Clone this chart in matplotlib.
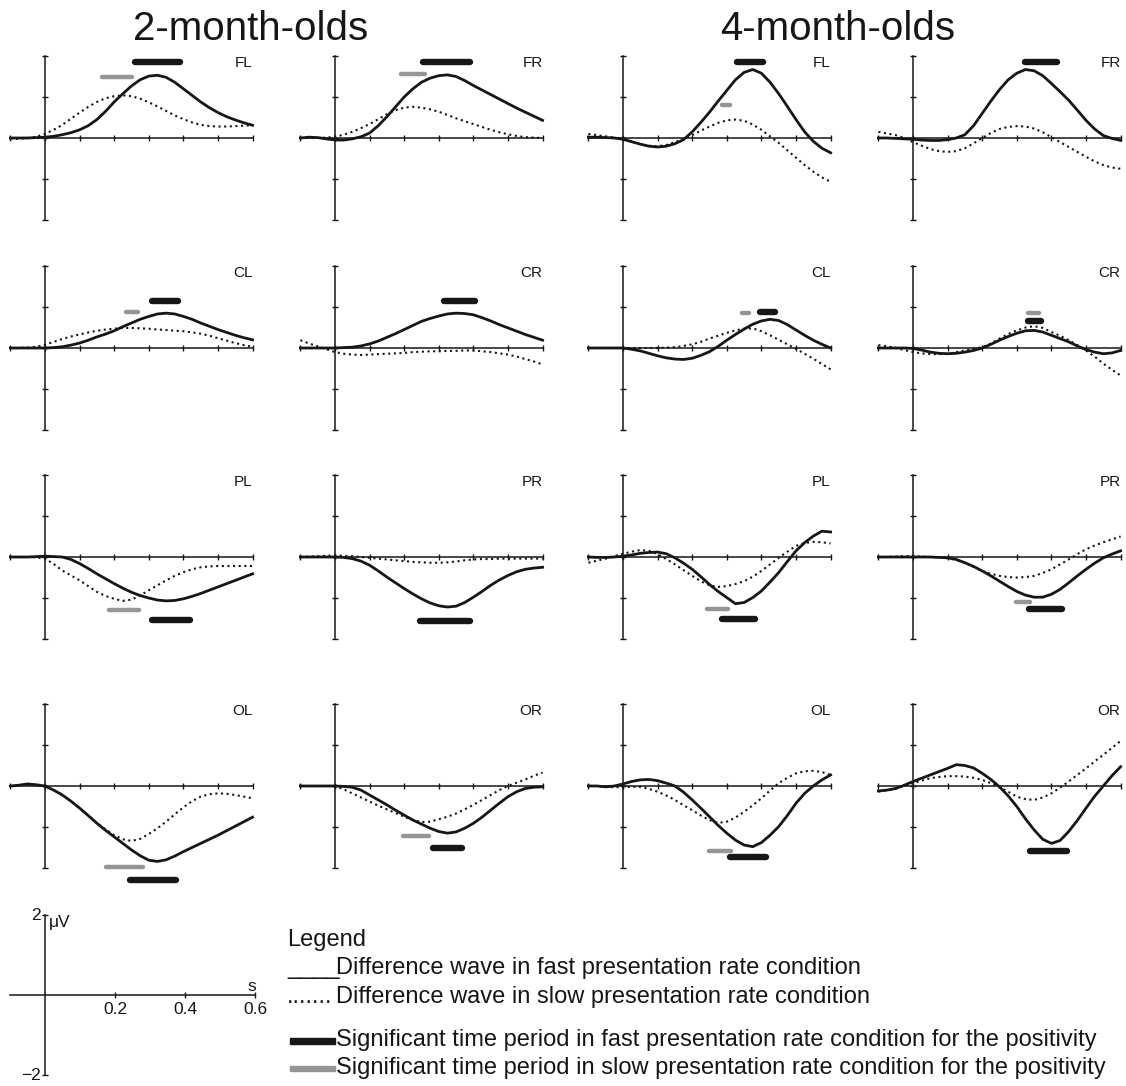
import matplotlib
matplotlib.use("Agg")
import matplotlib.pyplot as plt

plt.rcParams['font.family'] = ['Liberation Sans', 'DejaVu Sans']

# ---------------- data ----------------
time_s = [-0.1, -0.075, -0.05, -0.025, 0.0, 0.025, 0.05, 0.075, 0.1, 0.125,
          0.15, 0.175, 0.2, 0.225, 0.25, 0.275, 0.3, 0.325, 0.35, 0.375,
          0.4, 0.425, 0.45, 0.475, 0.5, 0.525, 0.55, 0.575, 0.6]

age_titles = ['2-month-olds', '4-month-olds']

# 2-month-olds (fast = solid, slow = dotted), microvolts
fast_2m_FL = [0, 0, 0, 0.01, 0.02, 0.04, 0.08, 0.13, 0.2, 0.3, 0.45, 0.65, 0.88, 1.08, 1.27, 1.42, 1.51, 1.53, 1.48, 1.36, 1.2, 1.04, 0.88, 0.74, 0.62, 0.52, 0.44, 0.37, 0.31]
slow_2m_FL = [-0.02, -0.02, 0, 0.03, 0.1, 0.2, 0.32, 0.47, 0.62, 0.76, 0.88, 0.97, 1.02, 1.04, 1.02, 0.96, 0.87, 0.77, 0.66, 0.55, 0.46, 0.38, 0.32, 0.29, 0.28, 0.28, 0.29, 0.3, 0.31]
fast_2m_FR = [0, 0.02, 0.01, -0.02, -0.05, -0.05, -0.02, 0.03, 0.12, 0.3, 0.52, 0.76, 1.0, 1.2, 1.36, 1.46, 1.52, 1.54, 1.5, 1.4, 1.28, 1.17, 1.06, 0.95, 0.84, 0.73, 0.63, 0.53, 0.43]
slow_2m_FR = [0, 0, 0, 0.01, 0.03, 0.08, 0.15, 0.24, 0.34, 0.46, 0.58, 0.68, 0.74, 0.76, 0.74, 0.7, 0.64, 0.56, 0.48, 0.41, 0.34, 0.27, 0.2, 0.14, 0.09, 0.05, 0.02, 0.01, 0]
fast_2m_CL = [0, 0, 0, 0, 0, 0.01, 0.03, 0.07, 0.12, 0.19, 0.27, 0.34, 0.42, 0.52, 0.61, 0.7, 0.77, 0.83, 0.85, 0.83, 0.77, 0.7, 0.61, 0.53, 0.45, 0.38, 0.31, 0.25, 0.2]
slow_2m_CL = [0, 0, 0.01, 0.03, 0.08, 0.15, 0.22, 0.28, 0.33, 0.38, 0.42, 0.45, 0.47, 0.49, 0.49, 0.48, 0.47, 0.45, 0.44, 0.42, 0.41, 0.38, 0.35, 0.3, 0.24, 0.18, 0.12, 0.07, 0.03]
fast_2m_CR = [0, 0, 0, 0, 0, 0.01, 0.02, 0.05, 0.1, 0.17, 0.26, 0.35, 0.45, 0.55, 0.65, 0.72, 0.78, 0.83, 0.85, 0.84, 0.81, 0.74, 0.66, 0.57, 0.49, 0.41, 0.33, 0.26, 0.19]
slow_2m_CR = [0.19, 0.11, 0.04, -0.03, -0.1, -0.14, -0.16, -0.17, -0.16, -0.15, -0.14, -0.13, -0.12, -0.1, -0.09, -0.08, -0.08, -0.07, -0.07, -0.06, -0.06, -0.08, -0.1, -0.13, -0.16, -0.21, -0.27, -0.33, -0.4]
fast_2m_PL = [0, 0, 0, 0.01, 0.02, 0.01, 0, -0.06, -0.16, -0.28, -0.41, -0.53, -0.65, -0.76, -0.86, -0.94, -1.0, -1.05, -1.07, -1.06, -1.02, -0.96, -0.89, -0.81, -0.73, -0.65, -0.57, -0.49, -0.41]
slow_2m_PL = [0, 0, 0, -0.01, -0.04, -0.17, -0.33, -0.45, -0.57, -0.71, -0.85, -0.95, -1.02, -1.07, -1.04, -0.94, -0.81, -0.69, -0.57, -0.46, -0.37, -0.3, -0.25, -0.23, -0.22, -0.22, -0.22, -0.22, -0.22]
fast_2m_PR = [0, 0, 0, 0, 0, -0.01, -0.04, -0.1, -0.2, -0.34, -0.49, -0.63, -0.77, -0.9, -1.02, -1.12, -1.19, -1.22, -1.2, -1.11, -0.98, -0.84, -0.69, -0.56, -0.45, -0.36, -0.3, -0.27, -0.25]
slow_2m_PR = [0, 0.01, 0.02, 0.03, 0.04, 0.03, 0.02, 0.0, -0.02, -0.04, -0.06, -0.08, -0.1, -0.12, -0.13, -0.14, -0.14, -0.13, -0.11, -0.08, -0.06, -0.05, -0.05, -0.04, -0.04, -0.04, -0.04, -0.04, -0.04]
fast_2m_OL = [0, 0.02, 0.05, 0.03, 0, -0.1, -0.22, -0.37, -0.54, -0.72, -0.91, -1.08, -1.24, -1.4, -1.56, -1.7, -1.81, -1.84, -1.8, -1.71, -1.6, -1.5, -1.4, -1.3, -1.2, -1.09, -0.98, -0.87, -0.76]
slow_2m_OL = [0, 0.02, 0.04, 0.02, -0.01, -0.1, -0.21, -0.37, -0.54, -0.72, -0.9, -1.06, -1.2, -1.3, -1.34, -1.29, -1.17, -1.03, -0.87, -0.69, -0.52, -0.37, -0.26, -0.2, -0.18, -0.19, -0.22, -0.26, -0.3]
fast_2m_OR = [0, 0, 0, 0, 0, -0.01, -0.03, -0.1, -0.22, -0.34, -0.46, -0.59, -0.71, -0.83, -0.93, -1.03, -1.11, -1.15, -1.12, -1.03, -0.91, -0.76, -0.59, -0.42, -0.26, -0.14, -0.06, -0.03, -0.02]
slow_2m_OR = [0, 0, 0, 0, 0, -0.08, -0.18, -0.28, -0.38, -0.48, -0.57, -0.66, -0.75, -0.83, -0.88, -0.87, -0.81, -0.75, -0.67, -0.57, -0.46, -0.34, -0.22, -0.1, 0.0, 0.08, 0.16, 0.25, 0.33]

# 4-month-olds
fast_4m_FL = [0.02, 0.02, 0.01, 0, -0.03, -0.09, -0.15, -0.2, -0.22, -0.2, -0.14, -0.04, 0.15, 0.38, 0.63, 0.9, 1.16, 1.42, 1.6, 1.67, 1.58, 1.36, 1.08, 0.77, 0.45, 0.15, -0.08, -0.25, -0.36]
slow_4m_FL = [0.1, 0.07, 0.04, 0.01, -0.03, -0.09, -0.15, -0.19, -0.2, -0.17, -0.1, -0.02, 0.07, 0.18, 0.28, 0.37, 0.43, 0.45, 0.42, 0.33, 0.2, 0.04, -0.12, -0.3, -0.48, -0.66, -0.82, -0.96, -1.07]
fast_4m_FR = [0, 0, -0.01, -0.02, -0.03, -0.05, -0.06, -0.06, -0.04, 0, 0.08, 0.3, 0.6, 0.9, 1.18, 1.42, 1.58, 1.67, 1.64, 1.52, 1.33, 1.13, 0.92, 0.68, 0.43, 0.22, 0.06, -0.01, -0.06]
slow_4m_FR = [0.15, 0.11, 0.07, 0.0, -0.1, -0.19, -0.27, -0.32, -0.34, -0.32, -0.25, -0.13, 0.0, 0.12, 0.22, 0.27, 0.29, 0.28, 0.23, 0.14, 0.02, -0.1, -0.22, -0.34, -0.46, -0.57, -0.66, -0.72, -0.75]
fast_4m_CL = [0, 0, 0, 0, 0, -0.03, -0.07, -0.13, -0.19, -0.24, -0.27, -0.28, -0.25, -0.18, -0.09, 0.04, 0.19, 0.33, 0.46, 0.58, 0.66, 0.7, 0.67, 0.57, 0.44, 0.31, 0.19, 0.09, 0.0]
slow_4m_CL = [0, 0, 0, 0, 0, 0, 0, 0, 0, 0.01, 0.02, 0.05, 0.09, 0.15, 0.23, 0.3, 0.37, 0.43, 0.47, 0.48, 0.41, 0.31, 0.2, 0.09, -0.02, -0.14, -0.26, -0.39, -0.52]
fast_4m_CR = [0, 0, 0, 0, -0.01, -0.05, -0.1, -0.13, -0.14, -0.13, -0.1, -0.06, 0, 0.09, 0.19, 0.28, 0.36, 0.42, 0.43, 0.39, 0.31, 0.23, 0.15, 0.05, -0.04, -0.1, -0.14, -0.12, -0.06]
slow_4m_CR = [0.07, 0.04, 0.0, -0.05, -0.1, -0.13, -0.15, -0.15, -0.14, -0.1, -0.06, -0.02, 0.02, 0.11, 0.23, 0.34, 0.43, 0.5, 0.53, 0.49, 0.39, 0.3, 0.19, 0.07, -0.06, -0.21, -0.38, -0.53, -0.67]
fast_4m_PL = [0, -0.01, -0.01, 0, 0.02, 0.05, 0.09, 0.11, 0.12, 0.08, -0.02, -0.15, -0.3, -0.48, -0.67, -0.84, -0.99, -1.14, -1.11, -0.99, -0.83, -0.61, -0.38, -0.11, 0.15, 0.35, 0.51, 0.63, 0.61]
slow_4m_PL = [-0.14, -0.09, -0.04, 0.02, 0.08, 0.13, 0.17, 0.15, 0.07, -0.05, -0.18, -0.32, -0.46, -0.59, -0.69, -0.73, -0.71, -0.66, -0.59, -0.48, -0.34, -0.18, -0.02, 0.13, 0.27, 0.34, 0.37, 0.36, 0.33]
fast_4m_PR = [0, 0, 0, 0, 0, 0, 0, -0.01, -0.02, -0.06, -0.14, -0.23, -0.34, -0.46, -0.59, -0.72, -0.84, -0.93, -0.98, -0.98, -0.91, -0.79, -0.63, -0.46, -0.3, -0.15, -0.02, 0.07, 0.15]
slow_4m_PR = [0, 0, 0.01, 0.02, 0.02, 0.01, 0, -0.01, -0.03, -0.07, -0.14, -0.24, -0.34, -0.41, -0.46, -0.49, -0.5, -0.49, -0.46, -0.39, -0.3, -0.18, -0.06, 0.07, 0.19, 0.28, 0.36, 0.43, 0.5]
fast_4m_OL = [0, 0, -0.02, 0.0, 0.05, 0.11, 0.15, 0.16, 0.13, 0.07, 0.0, -0.15, -0.34, -0.54, -0.75, -0.96, -1.15, -1.32, -1.44, -1.48, -1.38, -1.2, -0.99, -0.72, -0.42, -0.18, 0.0, 0.15, 0.27]
slow_4m_OL = [0, 0, -0.02, -0.03, -0.03, -0.02, -0.02, -0.07, -0.14, -0.23, -0.34, -0.47, -0.59, -0.72, -0.83, -0.9, -0.87, -0.77, -0.63, -0.47, -0.3, -0.11, 0.07, 0.2, 0.31, 0.36, 0.37, 0.34, 0.27]
fast_4m_OR = [-0.12, -0.1, -0.06, 0.02, 0.11, 0.19, 0.27, 0.35, 0.43, 0.52, 0.5, 0.44, 0.31, 0.16, -0.02, -0.24, -0.5, -0.8, -1.07, -1.3, -1.4, -1.33, -1.11, -0.84, -0.54, -0.25, 0.0, 0.25, 0.47]
slow_4m_OR = [-0.14, -0.1, -0.06, 0.0, 0.07, 0.13, 0.19, 0.22, 0.24, 0.24, 0.23, 0.2, 0.15, 0.07, -0.03, -0.14, -0.26, -0.32, -0.34, -0.28, -0.18, -0.04, 0.11, 0.27, 0.43, 0.6, 0.76, 0.93, 1.1]

# significant periods (start s, end s); None = no period
sigfast_2m = {'FL': (0.26, 0.39), 'FR': (0.255, 0.39), 'CL': (0.31, 0.385), 'CR': (0.315, 0.405),
              'PL': (0.31, 0.42), 'PR': (0.246, 0.39), 'OL': (0.245, 0.38), 'OR': (0.284, 0.368)}
sigslow_2m = {'FL': (0.165, 0.25), 'FR': (0.19, 0.26), 'CL': (0.235, 0.27), 'CR': None,
              'PL': (0.186, 0.272), 'PR': None, 'OL': (0.176, 0.282), 'OR': (0.197, 0.273)}
sigfast_4m = {'FL': (0.33, 0.405), 'FR': (0.325, 0.415), 'CL': (0.395, 0.44), 'CR': (0.333, 0.37),
              'PL': (0.287, 0.382), 'PR': (0.335, 0.43), 'OL': (0.31, 0.412), 'OR': (0.337, 0.445)}
sigslow_4m = {'FL': (0.285, 0.31), 'FR': None, 'CL': (0.345, 0.365), 'CR': (0.333, 0.363),
              'PL': (0.244, 0.304), 'PR': (0.298, 0.337), 'OL': (0.249, 0.312), 'OR': None}

legend_lines = ['Difference wave in fast presentation rate condition',
                'Difference wave in slow presentation rate condition',
                'Significant time period in fast presentation rate condition for the positivity',
                'Significant time period in slow presentation rate condition for the positivity']

# ---------------- layout (pixels) ----------------
W, H = 1126, 1086
COL_X0 = [45, 335, 623, 913]          # pixel x of t=0
ROW_Y0 = [138, 348, 557, 786]         # pixel y of 0 uV
PX_S = 346.0
PX_UV = 41.0
XLIM = (-0.13, 0.63)
YLIM = (-2.45, 2.25)
# vertical level (uV) of the significance bars per panel
BAR_Y = {
    ('2m', 'FL'): (1.85, 1.49), ('2m', 'FR'): (1.85, 1.55), ('4m', 'FL'): (1.85, 0.8), ('4m', 'FR'): (1.85, None),
    ('2m', 'CL'): (1.15, 0.89), ('2m', 'CR'): (1.15, None), ('4m', 'CL'): (0.88, 0.86), ('4m', 'CR'): (0.66, 0.85),
    ('2m', 'PL'): (-1.53, -1.3), ('2m', 'PR'): (-1.55, None), ('4m', 'PL'): (-1.52, -1.27), ('4m', 'PR'): (-1.27, -1.1),
    ('2m', 'OL'): (-2.29, -1.98), ('2m', 'OR'): (-1.5, -1.23), ('4m', 'OL'): (-1.74, -1.59), ('4m', 'OR'): (-1.59, None),
}

INK = '#161616'
GRAY = '#959595'

fig = plt.figure(figsize=(W / 100, H / 100), dpi=100)


def make_axes(x0, y0, xlim, ylim, pxs, pxv):
    left = x0 + xlim[0] * pxs
    width = (xlim[1] - xlim[0]) * pxs
    top = y0 - ylim[1] * pxv
    height = (ylim[1] - ylim[0]) * pxv
    ax = fig.add_axes([left / W, 1 - (top + height) / H, width / W, height / H])
    ax.set_xlim(xlim)
    ax.set_ylim(ylim)
    ax.patch.set_alpha(0)
    for s in ('top', 'right'):
        ax.spines[s].set_visible(False)
    ax.spines['left'].set_position(('data', 0))
    ax.spines['bottom'].set_position(('data', 0))
    for s in ('left', 'bottom'):
        ax.spines[s].set_color(INK)
        ax.spines[s].set_linewidth(1.1)
    ax.tick_params(direction='inout', length=5, width=1.0, color=INK,
                   labelbottom=False, labelleft=False)
    return ax


curves = {
    ('2m', 'FL'): (fast_2m_FL, slow_2m_FL), ('2m', 'FR'): (fast_2m_FR, slow_2m_FR),
    ('2m', 'CL'): (fast_2m_CL, slow_2m_CL), ('2m', 'CR'): (fast_2m_CR, slow_2m_CR),
    ('2m', 'PL'): (fast_2m_PL, slow_2m_PL), ('2m', 'PR'): (fast_2m_PR, slow_2m_PR),
    ('2m', 'OL'): (fast_2m_OL, slow_2m_OL), ('2m', 'OR'): (fast_2m_OR, slow_2m_OR),
    ('4m', 'FL'): (fast_4m_FL, slow_4m_FL), ('4m', 'FR'): (fast_4m_FR, slow_4m_FR),
    ('4m', 'CL'): (fast_4m_CL, slow_4m_CL), ('4m', 'CR'): (fast_4m_CR, slow_4m_CR),
    ('4m', 'PL'): (fast_4m_PL, slow_4m_PL), ('4m', 'PR'): (fast_4m_PR, slow_4m_PR),
    ('4m', 'OL'): (fast_4m_OL, slow_4m_OL), ('4m', 'OR'): (fast_4m_OR, slow_4m_OR),
}
sig = {'2m': (sigfast_2m, sigslow_2m), '4m': (sigfast_4m, sigslow_4m)}

rows = [('F', 'L', 'R'), ('C', 'L', 'R'), ('P', 'L', 'R'), ('O', 'L', 'R')]
for r, (reg, a, b) in enumerate(rows):
    cols = [('2m', reg + a), ('2m', reg + b), ('4m', reg + a), ('4m', reg + b)]
    for c, (age, site) in enumerate(cols):
        ax = make_axes(COL_X0[c], ROW_Y0[r], XLIM, YLIM, PX_S, PX_UV)
        ax.spines['left'].set_bounds(-2, 2)
        ax.spines['bottom'].set_bounds(-0.1, 0.6)
        ax.set_xticks([-0.1, 0.0, 0.1, 0.2, 0.3, 0.4, 0.5, 0.6])
        ax.set_yticks([-2, -1, 0, 1, 2])
        fast, slow = curves[(age, site)]
        ax.plot(time_s, slow, color=INK, lw=1.5, linestyle=(0, (1.0, 1.7)),
                dash_capstyle='butt', zorder=3)
        ax.plot(time_s, fast, color=INK, lw=2.0, zorder=4)
        fper, sper = sig[age][0][site], sig[age][1][site]
        yf, ys = BAR_Y[(age, site)]
        if fper is not None:
            ax.plot(list(fper), [yf, yf], color=INK, lw=4.6, solid_capstyle='round', zorder=5)
        if sper is not None:
            ax.plot(list(sper), [ys, ys], color=GRAY, lw=3.2, solid_capstyle='round', zorder=5)
        ax.text(0.6, 1.82, site, ha='right', va='center', fontsize=11, color=INK)

# titles
fig.text(251 / W, 1 - 29 / H, age_titles[0], ha='center', va='center', fontsize=29, color=INK)
fig.text(838 / W, 1 - 29 / H, age_titles[1], ha='center', va='center', fontsize=29, color=INK)

# scale axes
sax = make_axes(45, 995, (-0.13, 0.66), (-2.3, 2.3), 350.0, 40.0)
sax.spines['left'].set_bounds(-2, 2)
sax.spines['bottom'].set_bounds(-0.1, 0.6)
sax.set_xticks([0.2, 0.4, 0.6])
sax.set_yticks([-2, 2])
sax.tick_params(length=4)
for v in (0.2, 0.4, 0.6):
    sax.text(v, -0.18, f'{v:.1f}', ha='center', va='top', fontsize=12.5, color=INK)
sax.text(-0.012, 2.0, '2', ha='right', va='center', fontsize=12.5, color=INK)
sax.text(-0.012, -2.0, '\u22122', ha='right', va='center', fontsize=12.5, color=INK)
sax.text(0.012, 1.82, '\u03bcV', ha='left', va='center', fontsize=12.5, color=INK)
sax.text(0.59, 0.03, 's', ha='center', va='bottom', fontsize=12.5, color=INK)

# legend
fs = 17
fig.text(287 / W, 1 - 940 / H, 'Legend', ha='left', va='center', fontsize=fs, color=INK)
fig.text(287 / W, 1 - 968 / H, '____', ha='left', va='center', fontsize=fs, color=INK)
fig.text(336 / W, 1 - 968 / H, legend_lines[0], ha='left', va='center', fontsize=fs, color=INK)
fig.text(287 / W, 1 - 997 / H, '.......', ha='left', va='center', fontsize=fs, color=INK)
fig.text(336 / W, 1 - 997 / H, legend_lines[1], ha='left', va='center', fontsize=fs, color=INK)
fig.add_artist(plt.Rectangle((290 / W, 1 - 1044 / H), 45 / W, 6 / H, color=INK,
                             transform=fig.transFigure))
fig.text(336 / W, 1 - 1040 / H, legend_lines[2], ha='left', va='center', fontsize=fs, color=INK)
fig.add_artist(plt.Rectangle((290 / W, 1 - 1071 / H), 45 / W, 5 / H, color=GRAY,
                             transform=fig.transFigure))
fig.text(336 / W, 1 - 1068 / H, legend_lines[3], ha='left', va='center', fontsize=fs, color=INK)

fig.savefig('out.png', dpi=100, facecolor='white')
